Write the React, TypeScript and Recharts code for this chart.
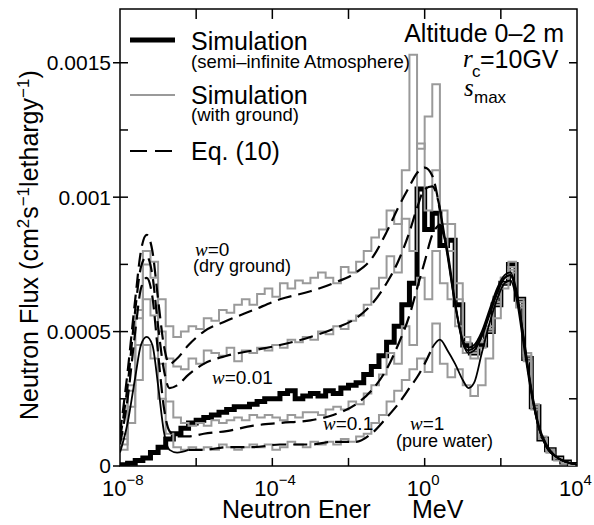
import { LineChart, Line, XAxis, YAxis, ReferenceLine, ReferenceArea } from 'recharts'

// energy bins, log10(E / MeV), lower edges of each histogram bin
const binE = [
  -8.0, -7.8, -7.6, -7.4, -7.2, -7.0, -6.8, -6.6, -6.4, -6.2,
  -6.0, -5.8, -5.6, -5.4, -5.2, -5.0, -4.8, -4.6, -4.4, -4.2,
  -4.0, -3.8, -3.6, -3.4, -3.2, -3.0, -2.8, -2.6, -2.4, -2.2,
  -2.0, -1.8, -1.6, -1.4, -1.2, -1.0, -0.8, -0.6, -0.4, -0.2,
  0.0, 0.2, 0.4, 0.6, 0.8, 1.0, 1.2, 1.4, 1.6, 1.8,
  2.0, 2.2, 2.4, 2.6, 2.8, 3.0, 3.2, 3.4, 3.6, 3.8, 4.0,
]

// simulation, semi-infinite atmosphere (thick black)
const simAtmos = [
  0.000005, 0.00001, 0.00002, 0.00003, 0.00005, 0.00007, 0.0001, 0.00012, 0.00014, 0.00016,
  0.00017, 0.00018, 0.00019, 0.0002, 0.00021, 0.00022, 0.00022, 0.00023, 0.00024, 0.00025,
  0.00025, 0.00027, 0.00028, 0.00025, 0.00026, 0.00027, 0.00026, 0.00028, 0.00027, 0.00029,
  0.0003, 0.00031, 0.00034, 0.00037, 0.00041, 0.00046, 0.00052, 0.0006, 0.00068, 0.00103,
  0.00088, 0.00094, 0.00082, 0.00084, 0.0006, 0.00045, 0.00042, 0.00045, 0.0005, 0.0006,
  0.00068, 0.00075, 0.00062, 0.0004, 0.00022, 0.0001, 0.00006, 0.00003, 0.000015, 0.000006, 0.000002,
]

// simulation with ground (grey histograms)
const gndDry = [
  0.00012, 0.0003, 0.00058, 0.0008, 0.00076, 0.00062, 0.00052, 0.00048, 0.0005, 0.00052,
  0.00051, 0.00055, 0.00054, 0.00058, 0.00057, 0.0006, 0.00062, 0.0006, 0.00064, 0.00066,
  0.00063, 0.00068, 0.00066, 0.00069, 0.00068, 0.0007, 0.00072, 0.0007, 0.00068, 0.00074,
  0.00072, 0.00076, 0.0008, 0.00085, 0.00088, 0.00095, 0.0009, 0.0011, 0.00153, 0.00118,
  0.0013, 0.00142, 0.00095, 0.0009, 0.00068, 0.00048, 0.00043, 0.00047, 0.00052, 0.00063,
  0.0007, 0.00076, 0.00062, 0.00042, 0.00023, 0.00011, 0.00006, 0.00003, 0.000015, 0.000006, 0.000002,
]
const gndW001 = [
  0.0001, 0.00028, 0.00055, 0.00075, 0.0007, 0.0005, 0.0004, 0.00037, 0.00036, 0.0004,
  0.00038, 0.00043, 0.00042, 0.00041, 0.00044, 0.00039, 0.00043, 0.00042, 0.00044, 0.00043,
  0.00045, 0.00044, 0.00047, 0.00046, 0.00048, 0.00047, 0.0005, 0.00049, 0.00052, 0.00051,
  0.00054, 0.00056, 0.0006, 0.00066, 0.0007, 0.00078, 0.00072, 0.00092, 0.0008, 0.0012,
  0.00095, 0.0011, 0.0009, 0.0008, 0.00062, 0.00046, 0.00042, 0.00046, 0.00051, 0.00061,
  0.0007, 0.00074, 0.00061, 0.00041, 0.00022, 0.0001, 0.00006, 0.00003, 0.000014, 0.000005, 0.000002,
]
const gndW01 = [
  0.00008, 0.00022, 0.00045, 0.00062, 0.00056, 0.00038, 0.00024, 0.00018, 0.00016, 0.00015,
  0.00016, 0.00015, 0.00017, 0.00016, 0.00017, 0.00018, 0.00017, 0.00019, 0.00018, 0.00019,
  0.00018, 0.00017, 0.00019, 0.00018, 0.0002, 0.0002, 0.00019, 0.00021, 0.00022, 0.00021,
  0.00024, 0.00023, 0.00027, 0.0003, 0.00034, 0.00042, 0.00038, 0.00052, 0.00045, 0.0007,
  0.00062, 0.0008, 0.00068, 0.00062, 0.00052, 0.00042, 0.0004, 0.00044, 0.0005, 0.0006,
  0.00068, 0.00073, 0.0006, 0.0004, 0.00022, 0.0001, 0.00005, 0.00003, 0.000013, 0.000005, 0.000002,
]
const gndWater = [
  0.00006, 0.00016, 0.00032, 0.00045, 0.0004, 0.00025, 0.00012, 0.00007, 0.00006, 0.00007,
  0.00006, 0.00007, 0.00006, 0.00008, 0.00007, 0.00006, 0.00007, 0.00008, 0.00007, 0.00008,
  0.00006, 0.00007, 0.00009, 0.00008, 0.00007, 0.00009, 0.00008, 0.00009, 0.00008, 0.0001,
  0.00009, 0.00011, 0.00012, 0.00016, 0.00019, 0.00024, 0.00028, 0.00032, 0.00036, 0.0004,
  0.00035, 0.00053, 0.00038, 0.00033, 0.00036, 0.0003, 0.00026, 0.0003, 0.0004, 0.00055,
  0.00066, 0.00072, 0.00059, 0.00039, 0.00021, 0.0001, 0.00005, 0.00002, 0.00001, 0.000005, 0.000002,
]

// Eq. (10), log10(E / MeV)
const eqE = [
  -8.0, -7.8, -7.6, -7.45, -7.3, -7.15, -7.0, -6.85, -6.7, -6.5,
  -6.2, -5.8, -5.2, -4.5, -3.8, -3.0, -2.4, -1.8, -1.4, -1.0,
  -0.7, -0.4, -0.2, 0.0, 0.2, 0.4, 0.6, 0.8, 1.0, 1.15,
  1.3, 1.5, 1.7, 1.9, 2.1, 2.25, 2.4, 2.6, 2.8, 3.0,
  3.2, 3.5, 4.0,
]
const eqDry = [
  0.00012, 0.00035, 0.00062, 0.0008, 0.00086, 0.0008, 0.00062, 0.00045, 0.00038, 0.0004,
  0.00045, 0.0005, 0.00054, 0.00058, 0.00062, 0.00065, 0.00068, 0.00072, 0.00077, 0.00087,
  0.00096, 0.00104, 0.00109, 0.00111, 0.00108, 0.00095, 0.00078, 0.0006, 0.00047, 0.00044,
  0.00045, 0.0005, 0.00058, 0.00066, 0.00071, 0.00072, 0.00066, 0.00048, 0.00029, 0.00015,
  0.00008, 0.00003, 0.000005,
]
const eqW001 = [
  0.0001, 0.0003, 0.00058, 0.00074, 0.00078, 0.00071, 0.00052, 0.00036, 0.00029, 0.0003,
  0.00034, 0.00038, 0.00041, 0.00043, 0.00045, 0.00048, 0.00051, 0.00055, 0.0006, 0.00068,
  0.00076, 0.00087, 0.00096, 0.00103, 0.00104, 0.00096, 0.00079, 0.0006, 0.00046, 0.00043,
  0.00044, 0.00049, 0.00057, 0.00065, 0.0007, 0.00071, 0.00065, 0.00047, 0.00028, 0.00014,
  0.00007, 0.00003, 0.000005,
]
const eqW01 = [
  0.00008, 0.00025, 0.0005, 0.00066, 0.0007, 0.00063, 0.00042, 0.00022, 0.00013, 0.00011,
  0.00011, 0.00012, 0.00013, 0.00015, 0.00016, 0.00017, 0.00019, 0.00023, 0.00028, 0.00036,
  0.00045, 0.00056, 0.00066, 0.00076, 0.00086, 0.0009, 0.0008, 0.00061, 0.00046, 0.00042,
  0.00043, 0.00048, 0.00056, 0.00064, 0.0007, 0.00071, 0.00065, 0.00047, 0.00028, 0.00014,
  0.00007, 0.00003, 0.000005,
]
const eqWater = [
  0.00005, 0.00016, 0.00033, 0.00045, 0.00048, 0.00045, 0.0003, 0.00013, 0.00006, 0.00005,
  0.00006, 0.00006, 0.00007, 0.00007, 0.00008, 0.00008, 0.00009, 0.00009, 0.00012, 0.00018,
  0.00023, 0.00029, 0.00033, 0.00038, 0.00044, 0.00047, 0.00043, 0.00038, 0.00032, 0.00029,
  0.00031, 0.00042, 0.00053, 0.00062, 0.00068, 0.00069, 0.00063, 0.00045, 0.00027, 0.00014,
  0.00007, 0.00003, 0.000005,
]

const xLabelTicks = [-8, -4, 0, 4]
const xInnerTicks = [-6, -4, -2, 0, 2]
const yLabelTicks = [0, 0.0005, 0.001, 0.0015]
const yInnerTicks = [0.00025, 0.0005, 0.00075, 0.001, 0.00125, 0.0015]

const X_MIN = -8
const X_MAX = 4
const Y_MAX = 0.0017
const SANS = '"Liberation Sans", Arial, Helvetica, sans-serif'
const SERIF = '"Liberation Serif", "Times New Roman", serif'

const histData = binE.map((x, i) => ({
  x,
  atmos: simAtmos[i],
  dry: gndDry[i],
  w001: gndW001[i],
  w01: gndW01[i],
  water: gndWater[i],
}))

// split an Eq.(10) curve into dashed / solid parts
function splitEq(vals: number[], isDashed: (x: number) => boolean, isSolid: (x: number) => boolean) {
  return eqE.map((x, i) => ({
    x,
    dash: isDashed(x) ? vals[i] : null,
    solid: isSolid(x) ? vals[i] : null,
  }))
}

const eqCurves = [
  splitEq(eqDry, x => x <= 0.4, x => x >= 0.4),
  splitEq(eqW001, x => x <= 0.4, x => x >= 0.4),
  splitEq(eqW01, x => x <= 0.4, x => x >= 0.4),
  splitEq(eqWater, x => x >= -6.2 && x <= 0.2, x => x <= -6.2 || x >= 0.2),
]

function XTick({ x, y, payload }: any) {
  const v = payload.value
  const exp = v < 0 ? '\u2212' + Math.abs(v) : String(v)
  return (
    <text x={x - 18} y={y + 22} fontSize={22} fontFamily={SANS} fill="#000">
      10
      <tspan dy={-11} fontSize={15}>{exp}</tspan>
    </text>
  )
}

const gray = '#9a9a9a'

export default function App() {
  return (
    <div style={{ position: 'absolute', left: 0, top: 0, width: 594, height: 525, background: '#fff' }}>
      <LineChart width={594} height={525} margin={{ top: 9, right: 17, left: 0, bottom: 0 }}>
        <XAxis
          dataKey="x"
          type="number"
          domain={[X_MIN, X_MAX]}
          ticks={xLabelTicks}
          tick={<XTick />}
          tickLine={false}
          axisLine={false}
          height={59}
          allowDataOverflow
        />
        <YAxis
          type="number"
          domain={[0, Y_MAX]}
          ticks={yLabelTicks}
          width={120}
          tickSize={7}
          tickLine={{ stroke: '#000', strokeWidth: 1.5 }}
          axisLine={false}
          tick={{ fontSize: 21, fontFamily: SANS, fill: '#000' }}
          allowDataOverflow
        />
        <ReferenceArea x1={X_MIN} x2={X_MAX} y1={0} y2={Y_MAX} fill="none" stroke="#000" strokeWidth={1.5} />
        {yInnerTicks.map(v => (
          <ReferenceLine key={'l' + v} segment={[{ x: X_MIN, y: v }, { x: X_MIN + 0.21, y: v }]} stroke="#000" strokeWidth={1.5} />
        ))}
        {yInnerTicks.map(v => (
          <ReferenceLine key={'r' + v} segment={[{ x: X_MAX - 0.21, y: v }, { x: X_MAX, y: v }]} stroke="#000" strokeWidth={1.5} />
        ))}
        {xInnerTicks.map(v => (
          <ReferenceLine key={'b' + v} segment={[{ x: v, y: 0 }, { x: v, y: 0.00003 }]} stroke="#000" strokeWidth={1.5} />
        ))}
        {xInnerTicks.map(v => (
          <ReferenceLine key={'t' + v} segment={[{ x: v, y: Y_MAX }, { x: v, y: Y_MAX - 0.000037 }]} stroke="#000" strokeWidth={1.5} />
        ))}

        <Line data={histData} dataKey="atmos" type="stepAfter" stroke="#000" strokeWidth={5} dot={false} isAnimationActive={false} />
        {['dry', 'w001', 'w01', 'water'].map(k => (
          <Line key={k} data={histData} dataKey={k} type="stepAfter" stroke={gray} strokeWidth={2} dot={false} isAnimationActive={false} />
        ))}
        {eqCurves.map((d, i) => (
          <Line key={'d' + i} data={d} dataKey="dash" type="monotone" stroke="#000" strokeWidth={2.2} strokeDasharray="14 7" dot={false} isAnimationActive={false} />
        ))}
        {eqCurves.map((d, i) => (
          <Line key={'s' + i} data={d} dataKey="solid" type="monotone" stroke="#000" strokeWidth={1.8} dot={false} isAnimationActive={false} />
        ))}
      </LineChart>

      <svg width={594} height={525} style={{ position: 'absolute', left: 0, top: 0, pointerEvents: 'none' }}>
        {/* legend */}
        <line x1={130} y1={40} x2={175} y2={40} stroke="#000" strokeWidth={5} />
        <text x={191} y={50} fontSize={25} fontFamily={SANS}>Simulation</text>
        <text x={191} y={68} fontSize={18.5} fontFamily={SANS}>(semi–infinite Atmosphere)</text>
        <line x1={130} y1={95} x2={175} y2={95} stroke={gray} strokeWidth={2} />
        <text x={191} y={104} fontSize={25} fontFamily={SANS}>Simulation</text>
        <text x={191} y={121} fontSize={18.5} fontFamily={SANS}>(with ground)</text>
        <line x1={130} y1={151} x2={175} y2={151} stroke="#000" strokeWidth={2} strokeDasharray="17 8" />
        <text x={191} y={160} fontSize={25} fontFamily={SANS}>Eq. (10)</text>

        {/* conditions */}
        <text x={564} y={42} textAnchor="end" fontSize={25} fontFamily={SANS}>Altitude 0–2 m</text>
        <text x={463} y={67} fontSize={25} fontFamily={SERIF} fontStyle="italic">r</text>
        <text x={472} y={77} fontSize={17} fontFamily={SANS}>c</text>
        <text x={480} y={68} fontSize={25} fontFamily={SANS}>=10GV</text>
        <text x={464} y={96} fontSize={25} fontFamily={SERIF} fontStyle="italic">s</text>
        <text x={474} y={103} fontSize={17} fontFamily={SANS}>max</text>

        {/* curve labels */}
        <text x={195} y={256} fontSize={19} fontFamily={SANS}>
          <tspan fontFamily={SERIF} fontStyle="italic">w</tspan>=0
        </text>
        <text x={193} y={272} fontSize={18} fontFamily={SANS}>(dry ground)</text>
        <text x={212} y={384} fontSize={19} fontFamily={SANS}>
          <tspan fontFamily={SERIF} fontStyle="italic">w</tspan>=0.01
        </text>
        <text x={323} y={430} fontSize={19} fontFamily={SANS}>
          <tspan fontFamily={SERIF} fontStyle="italic">w</tspan>=0.1
        </text>
        <text x={410} y={430} fontSize={19} fontFamily={SANS}>
          <tspan fontFamily={SERIF} fontStyle="italic">w</tspan>=1
        </text>
        <text x={396} y={447} fontSize={18} fontFamily={SANS}>(pure water)</text>

        {/* axis titles */}
        <text transform="translate(38,420) rotate(-90)" fontSize={25} fontFamily={SANS}>
          Neutron Flux (cm<tspan dy={-9} fontSize={17}>2</tspan>
          <tspan dy={9}>s</tspan>
          <tspan dy={-9} fontSize={17}>−1</tspan>
          <tspan dy={9}>lethargy</tspan>
          <tspan dy={-9} fontSize={17}>−1</tspan>
          <tspan dy={9}>)</tspan>
        </text>
        <text x={222} y={518} fontSize={25} fontFamily={SANS}>Neutron Ener</text>
        <text x={412} y={518} fontSize={25} fontFamily={SANS}>MeV</text>
      </svg>
    </div>
  )
}
